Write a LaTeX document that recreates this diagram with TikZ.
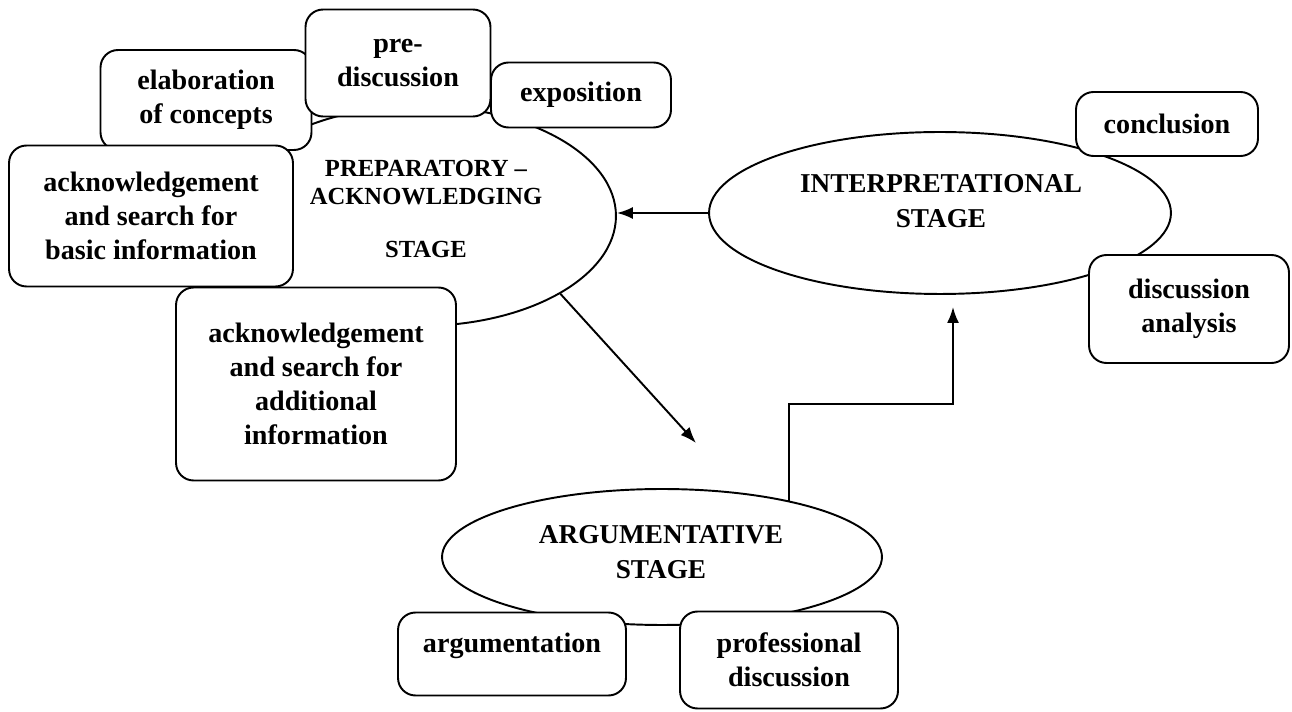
\documentclass[tikz,border=0pt]{standalone}
\usepackage{fontspec}
\setmainfont{Liberation Serif}
\usetikzlibrary{positioning}
\usetikzlibrary{shapes.geometric}
\usetikzlibrary{arrows.meta}

\begin{document}
\begin{tikzpicture}[
  x=0.02cm, y=-0.02cm,
  every path/.style={line width=1.1pt},
  stage/.style={draw,ellipse,inner sep=0,fill=white},
  stagetext/.style={align=center,font=\bfseries\fontsize{15.5}{19.5}\selectfont},
  task/.style={draw,fill=white,rounded corners=0.35cm,align=center,inner sep=0,
    font=\bfseries\fontsize{16}{19.3}\selectfont},
  ar/.style={->,>={Latex[length=0.32cm,width=0.24cm]}},
  auto
  ] %
    \useasboundingbox (0,0) rectangle (1292,712);
    % stages
    \node[stage,minimum width=7.84cm,minimum height=4.4cm](prep) at (420,216){};
    \node[stage,minimum width=9.24cm,minimum height=3.24cm](interp) at (940,213){};
    \node[stage,minimum width=8.8cm,minimum height=2.72cm](arg) at (662,557){};
    \node[stagetext,font=\bfseries\fontsize{14}{16}\selectfont](preptext) at (426,209)
      {PREPARATORY --\\ACKNOWLEDGING\\[0.5cm]STAGE};
    \node[stagetext](interptext) at (941,201){INTERPRETATIONAL\\STAGE};
    \node[stagetext](argtext) at (661,552){ARGUMENTATIVE\\STAGE};
    % tasks round the preparatory stage
    \node[task,minimum width=4.22cm,minimum height=2cm](elab) at (206,100){elaboration\\of concepts};
    \node[task,minimum width=3.7cm,minimum height=2.14cm](prediscussion) at (398,63){pre-\\discussion};
    \node[task,minimum width=3.6cm,minimum height=1.3cm](exposition) at (581,95){exposition};
    \node[task,minimum width=5.68cm,minimum height=2.82cm](basicinfo) at (151,216){acknowledgement\\and search for\\basic information};
    \node[task,minimum width=5.6cm,minimum height=3.86cm](addinfo) at (316,384){acknowledgement\\and search for\\additional\\information};
    % tasks round the other stages
    \node[task,minimum width=3.64cm,minimum height=1.28cm](conclusion) at (1167,124){conclusion};
    \node[task,minimum width=4cm,minimum height=2.16cm](analysis) at (1189,309){discussion\\analysis};
    \node[task,minimum width=4.56cm,minimum height=1.66cm,text depth=0.45cm](argumentation) at (512,654){argumentation};
    \node[task,minimum width=4.36cm,minimum height=1.94cm](professional) at (789,660){professional\\discussion};
    % flow between the stages
    \coordinate (downtip) at (696,443);
    \coordinate (turn) at (953,404);
    \coordinate (uptip) at (953,307);
    \draw[ar](interp.west) -- (interp.west -| prep.east);
    \draw[ar](prep.-29) -- (downtip);
    \draw[ar](arg.24) |- (turn) -- (uptip);
  \end{tikzpicture}
\end{document}
